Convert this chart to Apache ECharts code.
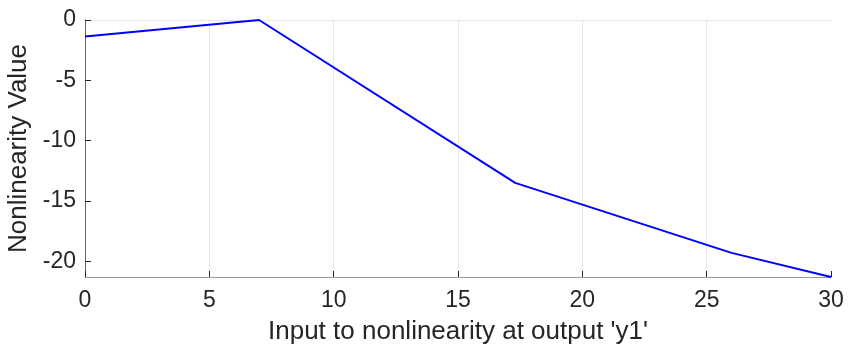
<!DOCTYPE html>
<html><head><meta charset="utf-8">
<script src="https://cdn.jsdelivr.net/npm/echarts@6/dist/echarts.min.js"></script>
<style>html,body{margin:0;padding:0;background:#fff}#c{width:849px;height:351px}</style>
</head><body><div id="c"></div>
<script>
const xValues = [0, 7.0, 17.3, 26.0, 30];
const yValues = [-1.36, 0, -13.5, -19.3, -21.3];
const xTicks = [0, 5, 10, 15, 20, 25, 30];
const yTicks = [-20, -15, -10, -5, 0];
const xTitle = "Input to nonlinearity at output 'y1'";
const yTitle = "Nonlinearity Value";

const chart = echarts.init(document.getElementById('c'), null, {renderer: 'canvas'});
const font = 'Liberation Sans, Arial, sans-serif';
chart.setOption({
  animation: false,
  grid: {left: 85, right: 18, top: 20, bottom: 74, containLabel: false, outerBoundsMode: 'none'},
  xAxis: [{
    type: 'value', min: 0, max: 30, interval: 5, position: 'bottom',
    axisLine: {show: true, onZero: false, lineStyle: {color: '#9a9a9a', width: 1}},
    axisTick: {show: true, inside: true, length: 6, lineStyle: {color: '#262626', width: 1}},
    axisLabel: {color: '#262626', fontSize: 23, fontFamily: font, margin: 12},
    splitLine: {show: true, showMinLine: false, showMaxLine: false, lineStyle: {color: '#e6e6e6', width: 1}},
    name: xTitle, nameLocation: 'middle', nameGap: 42,
    nameTextStyle: {color: '#262626', fontSize: 26, fontFamily: font}
  }, {
    type: 'value', min: 0, max: 30, position: 'top',
    axisLine: {show: true, onZero: false, lineStyle: {color: '#e6e6e6', width: 1}},
    axisTick: {show: false}, axisLabel: {show: false}, splitLine: {show: false}
  }],
  yAxis: {
    type: 'value', min: -21.3, max: 0,
    axisLine: {show: true, onZero: false, lineStyle: {color: '#666', width: 1}},
    axisTick: {show: true, inside: true, length: 6, customValues: yTicks, lineStyle: {color: '#262626', width: 1}},
    axisLabel: {color: '#262626', fontSize: 23, fontFamily: font, margin: 9, customValues: yTicks},
    splitLine: {show: false},
    name: yTitle, nameLocation: 'middle', nameGap: 46,
    nameTextStyle: {color: '#262626', fontSize: 26, fontFamily: font}
  },
  series: [{
    type: 'line', xAxisIndex: 0,
    data: xValues.map((x, i) => [x, yValues[i]]),
    showSymbol: false, symbol: 'none', clip: false,
    lineStyle: {color: '#0000ff', width: 2}
  }]
});
</script></body></html>
